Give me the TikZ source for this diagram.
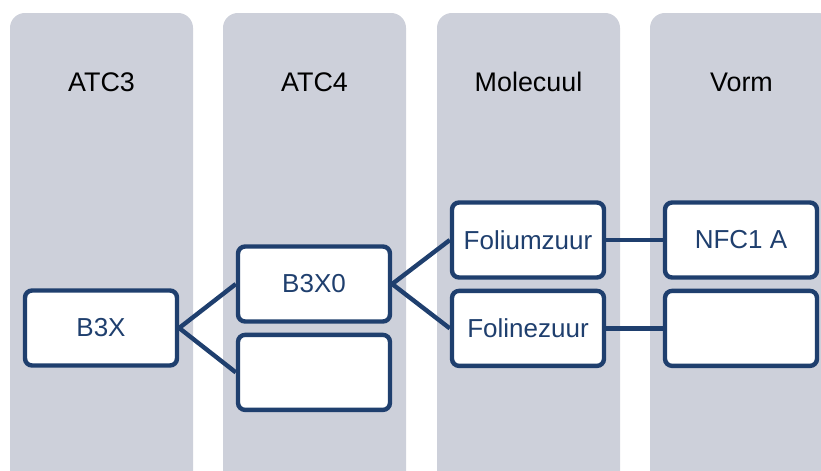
\documentclass[tikz,border=0pt]{standalone}
\usepackage{fontspec}
\setmainfont{Liberation Sans}
\usetikzlibrary{positioning}
\definecolor{colgrey}{RGB}{205,208,218}
\definecolor{boxblue}{RGB}{31,63,110}

\begin{document}
\begin{tikzpicture}[x=0.02cm, y=-0.02cm,
    item/.style={draw=boxblue, line width=2.5pt, fill=white, rounded corners=4pt,
      minimum width=3.04cm, minimum height=1.5cm, inner sep=0pt,
      text=boxblue, font=\fontsize{14.8}{18}\selectfont},
    link/.style={draw=boxblue, line width=2.5pt}]
    \useasboundingbox (0,0) rectangle (821,470);
    \clip (0,0) rectangle (821,470);

    % Draw columns with their titles
    \foreach \x/\t [count=\i] in {10/ATC3, 223/ATC4, 437/Molecuul, 650/Vorm} {
      \fill[colgrey, rounded corners=8.5pt] (\x,13) rectangle ++(183,480);
      \node[font=\fontsize{15.3}{18}\selectfont] (title\i) at (\x+91.5,82) {\t};
    }

    % Boxes
    \node[item] (b3x) at (101,328) {B3X};
    \node[item] (b3x0) at (314,284) {B3X0};
    \node[item, below=0.18cm of b3x0] (atcleeg) {};
    \node[item] (folium) at (528,240) {Foliumzuur};
    \node[item, below=0.18cm of folium] (foline) {Folinezuur};
    \node[item] (nfc) at (741,240) {NFC1 A};
    \node[item, below=0.18cm of nfc] (vormleeg) {};

    % Connectors
    \draw[link] (b3x.east) -- (b3x0.west);
    \draw[link] (b3x.east) -- (atcleeg.west);
    \draw[link] (b3x0.east) -- (folium.west);
    \draw[link] (b3x0.east) -- (foline.west);
    \draw[link] (folium) -- (nfc);
    \draw[link] (foline) -- (vormleeg);

\end{tikzpicture}
\end{document}
